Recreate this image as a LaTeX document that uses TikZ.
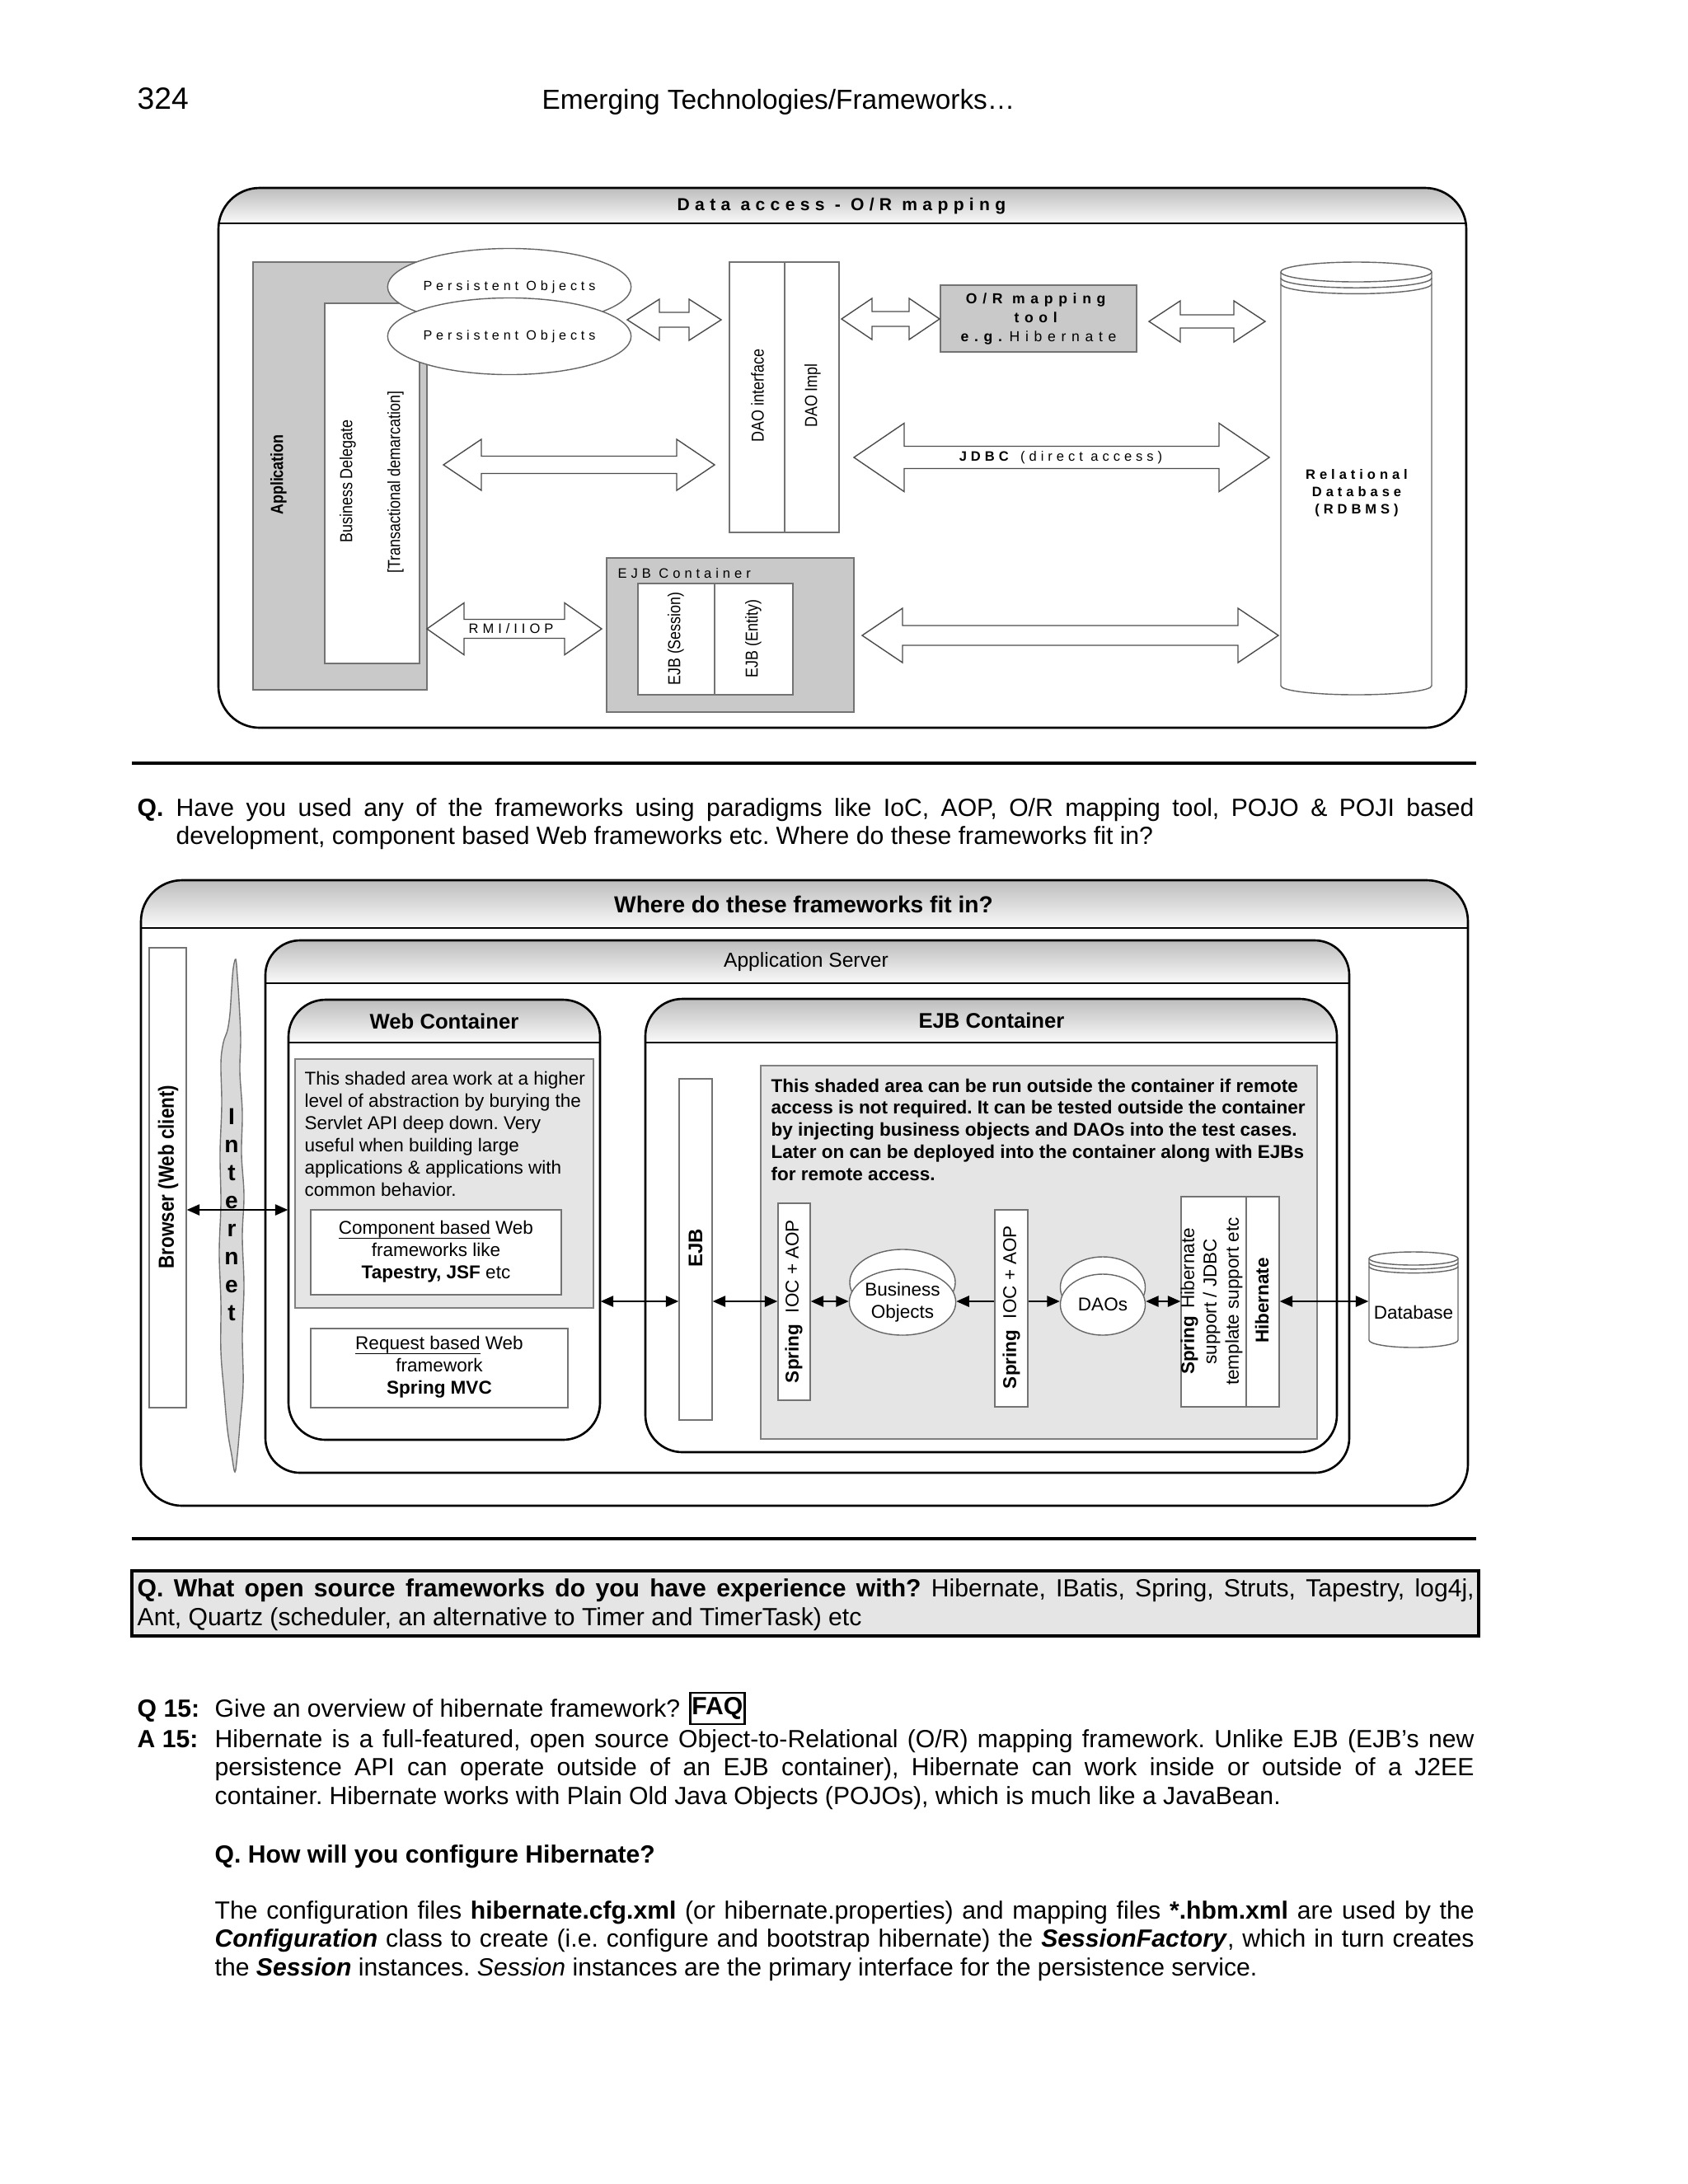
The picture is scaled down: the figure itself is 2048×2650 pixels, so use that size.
\documentclass[tikz,border=0pt]{standalone}
\usepackage{fontspec}
\setmainfont{Liberation Sans}
\newfontfamily\spf[LetterSpace=30]{Liberation Sans}
\newfontfamily\spfw[LetterSpace=38]{Liberation Sans}
\newfontfamily\narg[FakeStretch=0.85]{Liberation Sans}
\usetikzlibrary{arrows.meta,shapes.geometric,fit,calc}
\frenchspacing
\newcommand\fsz[2]{\fontsize{#1}{#2}\selectfont}
\newcommand\bodyf{\fsz{8.57}{10}}
\newcommand\uln[1]{\setbox0\hbox{#1}\rlap{\smash{\rule[-1.6pt]{\wd0}{0.35pt}}}\box0\relax}
\tikzset{
 graybox/.style={draw=black!55, line width=0.4pt, fill=black!21, inner sep=0pt},
 whitebox/.style={draw=black!55, line width=0.4pt, fill=white, inner sep=0pt},
 lightbox/.style={draw=black!50, line width=0.4pt, fill=black!10, inner sep=0pt},
 barr/.style={draw=black!70, line width=0.4pt, fill=white},
 tarr/.style={{Triangle[length=4.4pt,width=3.8pt]}-{Triangle[length=4.4pt,width=3.8pt]}, line width=0.45pt},
 rarr/.style={-{Triangle[length=4.4pt,width=3.8pt]}, line width=0.45pt},
 rotlab/.style={rotate=90, inner sep=0pt},
 lab/.style={inner sep=0pt},
 ell/.style={ellipse, draw=black!60, fill=white, line width=0.4pt, inner sep=0pt},
 dbline/.style={draw=black!60, line width=0.4pt},
}
% rounded container with shaded header: name, x1,y1,x2,y2, header bottom, radius
\newcommand\rbox[7]{%
\begin{scope}
\clip[rounded corners=#7] (#2,#3) rectangle (#4,#5);
\fill[white] (#2,#3) rectangle (#4,#5);
\shade[top color=black!26, bottom color=black!2] (#2,#3) rectangle (#4,#6);
\end{scope}
\draw[line width=0.75pt, rounded corners=#7] (#2,#3) rectangle (#4,#5);
\draw[line width=0.75pt] (#2,#6) -- (#4,#6);
\node[fit={(#2,#3) (#4,#5)}, inner sep=0pt] (#1) {};}
% block double arrow: x1, x2, yc, head length, half height, half shaft
\newcommand\barrow[6]{\draw[barr] (#1,#3) -- ({#1+#4},{#3-#5}) -- ({#1+#4},{#3-#6}) -- ({#2-#4},{#3-#6}) -- ({#2-#4},{#3-#5}) -- (#2,#3) -- ({#2-#4},{#3+#5}) -- ({#2-#4},{#3+#6}) -- ({#1+#4},{#3+#6}) -- ({#1+#4},{#3+#5}) -- cycle;}
% lower half ellipse arc from x1 to x2 at y with radius ry
\newcommand\lowarc[4]{\pgfmathsetmacro\cxa{(#1+#2)/2}\pgfmathsetmacro\rxa{(#2-#1)/2}%
\draw[dbline] (#1,#3) .. controls (#1,{#3+0.552*#4}) and ({\cxa-0.552*\rxa},{#3+#4}) .. (\cxa,{#3+#4}) .. controls ({\cxa+0.552*\rxa},{#3+#4}) and (#2,{#3+0.552*#4}) .. (#2,#3);}
% cylinder: name, x1, x2, ytop, ybot, ry top, ry bottom
\newcommand\cylinder[7]{\pgfmathsetmacro\cxa{(#2+#3)/2}\pgfmathsetmacro\rxa{(#3-#2)/2}%
\filldraw[dbline, fill=white] (#2,#4) -- (#2,#5) .. controls (#2,{#5+0.552*#7}) and ({\cxa-0.552*\rxa},{#5+#7}) .. (\cxa,{#5+#7}) .. controls ({\cxa+0.552*\rxa},{#5+#7}) and (#3,{#5+0.552*#7}) .. (#3,#5) -- (#3,#4) .. controls (#3,{#4-0.552*#6}) and ({\cxa+0.552*\rxa},{#4-#6}) .. (\cxa,{#4-#6}) .. controls ({\cxa-0.552*\rxa},{#4-#6}) and (#2,{#4-0.552*#6}) .. (#2,#4) -- cycle;
\lowarc{#2}{#3}{#4}{#6}\lowarc{#2}{#3}{#4+0.6*#6}{#6}\lowarc{#2}{#3}{#4+1.2*#6}{#6}%
\node[fit={(#2,{#4-#6}) (#3,{#5+#7})}, inner sep=0pt] (#1) {};}

\begin{document}
\begin{tikzpicture}[x=0.01cm, y=-0.01cm]
\useasboundingbox (0,0) rectangle (2048,2650);
\fill[white] (0,0) rectangle (2048,2650);

% ---------- running head ----------
\node[lab, anchor=base west, font=\fsz{10.6}{12}] (pgnum) at (166,132) {324};
\node[lab, anchor=base west, font=\fsz{9.5}{11}] (runhead) at (657,132) {Emerging Technologies/Frameworks…};

% ---------- top diagram ----------
\rbox{dabox}{265}{228}{1779}{883}{271}{0.5cm}
\node[lab, font=\spf\fsz{6}{7}\bfseries] (datitle) at (1021,250) {Data access - O/R mapping};

\node[graybox, fit={(307,318) (518,837)}] (app) {};
\node[whitebox, fit={(394,368) (509,805)}] (bd) {};
\node[rotlab, font=\narg\fsz{6}{7}\bfseries] (applab) at (338,576) {Application};
\node[rotlab, font=\narg\fsz{6}{7}] (bdlab) at (422,584) {Business Delegate};
\node[rotlab, font=\narg\fsz{6}{7}] (tdlab) at (480,585) {[Transactional demarcation]};

\node[ell, minimum width=2.82cm, minimum height=0.93cm, font=\spf\fsz{4.6}{6}] (po1) at (618,348) {Persistent Objects};
\node[ell, minimum width=2.82cm, minimum height=0.93cm, font=\spf\fsz{4.6}{6}] (po2) at (618,408) {Persistent Objects};

\node[whitebox, fit={(885,318) (952,646)}] (daoi) {};
\node[whitebox, fit={(952,318) (1018,646)}] (daoim) {};
\node[rotlab, font=\narg\fsz{6}{7}] (daoilab) at (919,480) {DAO interface};
\node[rotlab, font=\narg\fsz{6}{7}] (daoimlab) at (986,480) {DAO Impl};

\node[graybox, fit={(1141,346) (1379,427)}] (ormt) {};
\node[lab, align=center, font=\spfw\fsz{5}{6.5}] (ormtxt) at (1260,387) {\textbf{O/R mapping}\\\textbf{tool}\\\textbf{e.g.}\hspace{0.12em}Hibernate};

\cylinder{rdb}{1554}{1737}{330}{832}{12}{11}
\node[lab, align=center, font=\spf\fsz{4.7}{6}\bfseries] (rdbtxt) at (1646,598) {Relational\\Database\\(RDBMS)};

\node[graybox, fit={(736,677) (1036,864)}] (ejbc) {};
\node[lab, anchor=west, font=\spf\fsz{4.7}{6}] (ejbclab) at (749,696) {EJB Container};
\node[whitebox, fit={(774,708) (867,843)}] (ejbs) {};
\node[whitebox, fit={(867,708) (962,843)}] (ejbe) {};
\node[rotlab, font=\narg\fsz{6}{7}] (ejbslab) at (820,775) {EJB (Session)};
\node[rotlab, font=\narg\fsz{6}{7}] (ejbelab) at (914,775) {EJB (Entity)};

\barrow{761}{875}{388}{39}{25}{9}
\barrow{538}{867}{564}{46}{31}{10.5}
\barrow{1021}{1140}{387}{37}{25}{9}
\barrow{1394}{1535}{390}{38}{25}{8}
\barrow{1036}{1540}{555}{61}{41.5}{13.5}
\barrow{518}{730}{763}{45}{31.5}{11.5}
\barrow{1046}{1551}{771}{49}{33}{12}
\node[lab, font=\spf\fsz{4.7}{6}] (jdbc) at (1287,555) {\textbf{JDBC}\ (direct access)};
\node[lab, font=\spf\fsz{4.7}{6}] (rmi) at (620,763) {RMI/IIOP};

% ---------- separator + question ----------
\draw[line width=0.9pt] (160,926) -- (1791,926);
\node[lab, anchor=base west, font=\bodyf\bfseries] (qmark) at (166,990) {Q.};
\node[lab, anchor=base west, font=\bodyf] (ql1) at (213,990) {\makebox[15.74cm][s]{Have you used any of the frameworks using paradigms like IoC, AOP, O/R mapping tool, POJO \& POJI based}};
\node[lab, anchor=base west, font=\bodyf] (ql2) at (213,1024) {development, component based Web frameworks etc. Where do these frameworks fit in?};

% ---------- second diagram ----------
\rbox{fwbox}{171}{1068}{1781}{1827}{1126}{0.5cm}
\node[lab, font=\fsz{8}{9}\bfseries] (fwtitle) at (975,1097) {Where do these frameworks fit in?};
\rbox{appsrv}{322}{1141}{1637}{1787}{1193}{0.42cm}
\node[lab, font=\fsz{7}{8}] (appsrvlab) at (978,1167) {Application Server};
\rbox{webc}{350}{1213}{728}{1747}{1265}{0.45cm}
\node[lab, font=\fsz{7.3}{8}\bfseries] (webclab) at (539,1239) {Web Container};
\rbox{ejbcont}{783}{1212}{1622}{1762}{1265}{0.45cm}
\node[lab, font=\fsz{7.3}{8}\bfseries] (ejbcontlab) at (1203,1238) {EJB Container};

\node[whitebox, fit={(181,1150) (226,1708)}] (brw) {};
\node[rotlab, font=\narg\fsz{7.5}{9}\bfseries] (brwlab) at (204,1428) {Browser (Web client)};

\draw[draw=black!55, fill=black!15, line width=0.4pt] plot[smooth cycle, tension=0.6] coordinates {(286,1164) (288,1185) (290,1215) (292,1260) (291,1300) (294,1350) (293,1400) (296,1450) (294,1500) (296,1560) (294,1620) (295,1680) (291,1730) (288,1765) (285,1786) (281,1765) (276,1735) (272,1690) (268,1640) (268,1580) (266,1520) (268,1460) (267,1400) (269,1340) (268,1290) (271,1265) (276,1250) (279,1230) (281,1200) (283,1175)};
\node[lab, align=center, font=\fsz{8}{9.67}\bfseries] (inet) at (281,1474) {I\\n\\t\\e\\r\\n\\e\\t};

\node[lightbox, fit={(358,1285) (720,1587)}] (webshade) {};
\node[lab, anchor=north west, align=left, font=\fsz{6.4}{7.7}] (webtxt) at (369,1299) {This shaded area work at a higher\\level of abstraction by burying the\\Servlet API deep down. Very\\useful when building large\\applications \& applications with\\common behavior.};
\node[whitebox, fit={(377,1468) (681,1571)}] (comp) {};
\node[lab, align=center, font=\fsz{6.4}{7.7}] (comptxt) at (529,1519) {\uln{Component based} Web\\frameworks like\\\textbf{Tapestry, JSF} etc};
\node[whitebox, fit={(377,1612) (689,1708)}] (req) {};
\node[lab, align=center, font=\fsz{6.4}{7.7}] (reqtxt) at (533,1659) {\uln{Request based} Web\\framework\\\textbf{Spring MVC}};

\node[whitebox, fit={(824,1309) (864,1723)}] (ejbb) {};
\node[rotlab, font=\fsz{6.8}{8}\bfseries] (ejbblab) at (844,1514) {EJB};

\node[lightbox, fit={(923,1293) (1598,1746)}] (ejbshade) {};
\node[lab, anchor=north west, align=left, font=\fsz{6.4}{7.61}\bfseries] (ejbtxt) at (935,1308) {This shaded area can be run outside the container if remote\\access is not required. It can be tested outside the container\\by injecting business objects and DAOs into the test cases.\\Later on can be deployed into the container along with EJBs\\for remote access.};

\node[whitebox, fit={(944,1460) (983,1699)}] (sp1) {};
\node[rotlab, font=\fsz{6.4}{7.7}] (sp1lab) at (963,1579) {\textbf{Spring}\hspace{0.6em}IOC + AOP};
\node[ell, minimum width=1.28cm, minimum height=0.8cm] (bob) at (1095,1556) {};
\node[ell, minimum width=1.28cm, minimum height=0.8cm, align=center, font=\fsz{6.4}{7.5}] (bo) at (1095,1580) {Business\\Objects};
\node[whitebox, fit={(1207,1468) (1247,1707)}] (sp2) {};
\node[rotlab, font=\fsz{6.4}{7.7}] (sp2lab) at (1227,1586) {\textbf{Spring}\hspace{0.6em}IOC + AOP};
\node[ell, minimum width=1.03cm, minimum height=0.74cm] (daob) at (1338,1562) {};
\node[ell, minimum width=1.03cm, minimum height=0.74cm, font=\fsz{6.4}{7.5}] (dao) at (1338,1583) {DAOs};
\node[whitebox, fit={(1433,1452) (1512,1707)}] (sh) {};
\node[whitebox, fit={(1512,1452) (1552,1707)}] (shh) {};
\node[rotlab, align=center, font=\fsz{6.4}{7.7}] (shlab) at (1470,1579) {\textbf{Spring}\hspace{0.4em}Hibernate\\support / JDBC\\template support etc};
\node[rotlab, font=\fsz{6.4}{7.7}\bfseries] (shhlab) at (1531,1578) {Hibernate};

\cylinder{sdb}{1661}{1769}{1527}{1626}{8}{9}
\node[lab, font=\fsz{6.4}{7.5}] (sdbtxt) at (1715,1592) {Database};

\coordinate (ybr) at (0,1468);
\coordinate (yrow) at (0,1579);
\draw[tarr] (brw.east |- ybr) -- (webc.west |- ybr);
\draw[tarr] (webc.east |- yrow) -- (ejbb.west |- yrow);
\draw[tarr] (ejbb.east |- yrow) -- (sp1.west |- yrow);
\draw[tarr] (sp1.east |- yrow) -- (bo.west |- yrow);
\draw[rarr] (sp2.west |- yrow) -- (bo.east |- yrow);
\draw[rarr] (sp2.east |- yrow) -- (dao.west |- yrow);
\draw[tarr] (dao.east |- yrow) -- (sh.west |- yrow);
\draw[tarr] (shh.east |- yrow) -- (sdb.west |- yrow);

% ---------- separator + gray box ----------
\draw[line width=0.9pt] (160,1867) -- (1791,1867);
\node[fit={(160,1906) (1794,1985)}, draw=black, line width=0.9pt, fill=black!10, inner sep=0pt] (qbox) {};
\node[lab, anchor=base west, font=\bodyf] (qb1) at (166,1937) {\makebox[16.21cm][s]{\textbf{Q. What open source frameworks do you have experience with?} Hibernate, IBatis, Spring, Struts, Tapestry, log4j,}};
\node[lab, anchor=base west, font=\bodyf] (qb2) at (166,1972) {Ant, Quartz (scheduler, an alternative to Timer and TimerTask) etc};

% ---------- Q15 / A15 ----------
\node[lab, anchor=base west, font=\bodyf\bfseries] (q15) at (166,2083) {Q 15:};
\node[lab, anchor=base west, font=\bodyf] (q15t) at (260,2083) {Give an overview of hibernate framework?};
\node[draw, line width=0.8pt, anchor=west, minimum width=0.66cm, minimum height=0.38cm, inner sep=0pt, font=\bodyf\bfseries] (faq) at ([xshift=0.1cm]q15t.east |- 0,2073) {FAQ};
\node[lab, anchor=base west, font=\bodyf\bfseries] (a15) at (166,2120) {A 15:};
\node[lab, anchor=base west, font=\bodyf] (a1) at (260,2120) {\makebox[15.27cm][s]{Hibernate is a full-featured, open source Object-to-Relational (O/R) mapping framework. Unlike EJB (EJB’s new}};
\node[lab, anchor=base west, font=\bodyf] (a2) at (260,2154) {\makebox[15.27cm][s]{persistence API can operate outside of an EJB container), Hibernate can work inside or outside of a J2EE}};
\node[lab, anchor=base west, font=\bodyf] (a3) at (260,2189) {container. Hibernate works with Plain Old Java Objects (POJOs), which is much like a JavaBean.};
\node[lab, anchor=base west, font=\bodyf\bfseries] (qhow) at (260,2260) {Q. How will you configure Hibernate?};
\node[lab, anchor=base west, font=\bodyf] (p1) at (260,2328) {\makebox[15.27cm][s]{The configuration files \textbf{hibernate.cfg.xml} (or hibernate.properties) and mapping files \textbf{*.hbm.xml} are used by the}};
\node[lab, anchor=base west, font=\bodyf] (p2) at (260,2362) {\makebox[15.27cm][s]{\textbf{\textit{Configuration}} class to create (i.e. configure and bootstrap hibernate) the \textbf{\textit{SessionFactory}}, which in turn creates}};
\node[lab, anchor=base west, font=\bodyf] (p3) at (260,2397) {the \textbf{\textit{Session}} instances. \textit{Session} instances are the primary interface for the persistence service.};
\end{tikzpicture}
\end{document}
